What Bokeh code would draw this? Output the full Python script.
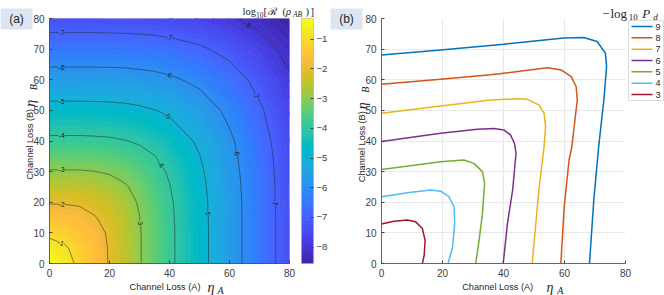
import math
import numpy as np
from bokeh.plotting import figure
from bokeh.plotting.contour import contour_data
from bokeh.layouts import row
from bokeh.models import (Range1d, FixedTicker, ColorBar, LinearColorMapper, Label, BoxAnnotation,
                          ColumnDataSource, GridBox)
from bokeh.core.properties import value
from bokeh.embed import file_html
from bokeh.resources import INLINE

# ---------------- panel (a): log10[R(rho_AB)] on a grid ----------------
eta_grid = [0, 5, 10, 15, 20, 25, 30, 35, 40, 50, 60, 70, 80]
# rows: eta_B = eta_grid[j]; columns: eta_A = eta_grid[i]
log10_R = [
    [-0.27, -0.71, -1.16, -1.61, -2.05, -2.50, -2.95, -3.39, -3.84, -4.73, -5.63, -6.52, -7.41],
    [-0.71, -0.90, -1.27, -1.62, -2.06, -2.50, -2.95, -3.39, -3.84, -4.73, -5.63, -6.52, -7.41],
    [-1.16, -1.27, -1.53, -1.73, -2.10, -2.51, -2.95, -3.40, -3.84, -4.73, -5.63, -6.52, -7.41],
    [-1.61, -1.62, -1.73, -1.96, -2.22, -2.57, -2.99, -3.42, -3.86, -4.74, -5.63, -6.52, -7.41],
    [-2.05, -2.06, -2.10, -2.22, -2.44, -2.70, -3.07, -3.47, -3.89, -4.76, -5.64, -6.53, -7.42],
    [-2.50, -2.50, -2.51, -2.57, -2.70, -2.92, -3.22, -3.58, -3.97, -4.80, -5.66, -6.54, -7.43],
    [-2.95, -2.95, -2.95, -2.99, -3.07, -3.22, -3.45, -3.75, -4.09, -4.87, -5.71, -6.57, -7.45],
    [-3.39, -3.39, -3.40, -3.42, -3.47, -3.58, -3.75, -3.98, -4.28, -4.98, -5.77, -6.61, -7.48],
    [-3.84, -3.84, -3.84, -3.86, -3.89, -3.97, -4.09, -4.28, -4.52, -5.13, -5.87, -6.68, -7.52],
    [-4.73, -4.73, -4.73, -4.74, -4.76, -4.80, -4.87, -4.98, -5.13, -5.58, -6.18, -6.89, -7.67],
    [-5.63, -5.63, -5.63, -5.63, -5.64, -5.66, -5.71, -5.77, -5.87, -6.18, -6.64, -7.23, -7.92],
    [-6.52, -6.52, -6.52, -6.52, -6.53, -6.54, -6.57, -6.61, -6.68, -6.89, -7.23, -7.68, -8.22],
    [-7.41, -7.41, -7.41, -7.41, -7.42, -7.43, -7.45, -7.48, -7.52, -7.67, -7.92, -8.22, -8.58],
]
contour_levels = [-8, -7, -6, -5, -4, -3, -2, -1]
cbar_low = -8.55
cbar_high = -0.30
cbar_ticks = [-8, -7, -6, -5, -4, -3, -2, -1]
ticks_x = [0, 20, 40, 60, 80]
ticks_y = [0, 10, 20, 30, 40, 50, 60, 70, 80]

# ---------------- panel (b): -log10 Pd contour curves ----------------
pd_labels = ["9", "8", "7", "6", "5", "4", "3"]
pd9_x = [0, 19.4, 40.1, 59.8, 66.3, 70.7, 73.4, 73.8, 72.9, 71.2, 69.6, 68.2]
pd9_y = [68.1, 69.7, 71.6, 73.6, 73.8, 72.5, 68.7, 64.3, 53.4, 38.1, 20.7, 0]
pd8_x = [0, 19.4, 35.8, 51.1, 54.4, 58.9, 62.2, 63.8, 64.2, 63.3, 62.4, 61.5, 59.9, 58.8]
pd8_y = [58.5, 60.2, 61.6, 63.5, 63.9, 63.2, 61.0, 57.8, 53.4, 45.8, 38.1, 33.8, 18.5, 0]
pd7_x = [0, 19.4, 35.8, 44.5, 47.8, 51.6, 53.3, 53.8, 53.3, 51.6, 49.4]
pd7_y = [49.1, 51.4, 53.4, 53.8, 53.6, 51.8, 49.1, 44.7, 38.1, 24.0, 0]
pd6_x = [0, 19.4, 31.4, 36.9, 40.1, 42.3, 43.6, 44.1, 43.0, 41.3, 39.9]
pd6_y = [39.8, 42.5, 43.8, 44.1, 43.6, 42.0, 39.2, 36.0, 24.0, 13.1, 0]
pd5_x = [0, 10.7, 19.4, 27.0, 30.3, 33.1, 33.8, 33.1, 32.0, 30.9]
pd5_y = [30.7, 32.1, 33.2, 33.8, 32.7, 30.0, 26.2, 16.4, 7.6, 0]
pd4_x = [0, 8.5, 16.1, 19.4, 22.1, 23.8, 24.0, 23.3, 21.8]
pd4_y = [21.8, 23.1, 24.0, 23.6, 21.8, 18.5, 13.1, 5.4, 0]
pd3_x = [0, 4.1, 8.5, 11.2, 13.4, 14.3, 14.0, 13.4]
pd3_y = [12.9, 13.8, 14.2, 13.6, 11.4, 7.6, 2.7, 0]
pd_x = [pd9_x, pd8_x, pd7_x, pd6_x, pd5_x, pd4_x, pd3_x]
pd_y = [pd9_y, pd8_y, pd7_y, pd6_y, pd5_y, pd4_y, pd3_y]

# ---------------- styles ----------------
pd_colors = ["#0072BD", "#D95319", "#EDB120", "#7E2F8E", "#77AC30", "#4DBEEE", "#A2142F"]
parula_rgb = [
    (0.2422, 0.1504, 0.6603), (0.2504, 0.1650, 0.7076), (0.2578, 0.1818, 0.7511), (0.2647, 0.1978, 0.7952),
    (0.2706, 0.2147, 0.8364), (0.2751, 0.2342, 0.8710), (0.2783, 0.2559, 0.8991), (0.2803, 0.2782, 0.9221),
    (0.2813, 0.3006, 0.9414), (0.2810, 0.3228, 0.9579), (0.2795, 0.3447, 0.9717), (0.2760, 0.3667, 0.9829),
    (0.2699, 0.3892, 0.9906), (0.2602, 0.4123, 0.9952), (0.2440, 0.4358, 0.9988), (0.2206, 0.4603, 0.9973),
    (0.1963, 0.4847, 0.9892), (0.1834, 0.5074, 0.9798), (0.1786, 0.5289, 0.9682), (0.1764, 0.5499, 0.9520),
    (0.1687, 0.5703, 0.9359), (0.1540, 0.5902, 0.9218), (0.1460, 0.6091, 0.9079), (0.1380, 0.6276, 0.8973),
    (0.1248, 0.6459, 0.8883), (0.1113, 0.6635, 0.8763), (0.0952, 0.6798, 0.8598), (0.0689, 0.6948, 0.8394),
    (0.0297, 0.7082, 0.8163), (0.0036, 0.7203, 0.7917), (0.0067, 0.7312, 0.7660), (0.0433, 0.7411, 0.7394),
    (0.0964, 0.7500, 0.7120), (0.1408, 0.7584, 0.6842), (0.1717, 0.7670, 0.6554), (0.1938, 0.7758, 0.6251),
    (0.2161, 0.7843, 0.5923), (0.2470, 0.7918, 0.5567), (0.2906, 0.7973, 0.5188), (0.3406, 0.8008, 0.4789),
    (0.3909, 0.8029, 0.4354), (0.4456, 0.8024, 0.3909), (0.5044, 0.7993, 0.3480), (0.5616, 0.7942, 0.3045),
    (0.6174, 0.7876, 0.2612), (0.6720, 0.7793, 0.2227), (0.7242, 0.7698, 0.1910), (0.7738, 0.7598, 0.1646),
    (0.8203, 0.7498, 0.1535), (0.8634, 0.7406, 0.1596), (0.9035, 0.7330, 0.1774), (0.9393, 0.7288, 0.2100),
    (0.9728, 0.7298, 0.2394), (0.9956, 0.7434, 0.2371), (0.9970, 0.7659, 0.2199), (0.9952, 0.7893, 0.2028),
    (0.9892, 0.8136, 0.1885), (0.9786, 0.8386, 0.1766), (0.9676, 0.8639, 0.1643), (0.9610, 0.8890, 0.1537),
    (0.9597, 0.9135, 0.1423), (0.9628, 0.9373, 0.1265), (0.9691, 0.9606, 0.1064), (0.9769, 0.9839, 0.0805),
]
parula = ["#%02x%02x%02x" % tuple(int(round(c * 255)) for c in rgb) for rgb in parula_rgb]

SANS = "Liberation Sans"
SERIF = "Liberation Serif"
TXT = "#262626"
TICK_TXT = "#404040"
W, H = 664, 295


def style_axes(p, xt, yt):
    p.xaxis.ticker = FixedTicker(ticks=xt)
    p.yaxis.ticker = FixedTicker(ticks=yt)
    for ax in (p.xaxis[0], p.yaxis[0]):
        ax.major_label_text_font = SANS
        ax.major_label_text_font_size = "10px"
        ax.major_label_text_color = TICK_TXT
        ax.axis_line_color = "#404040"
        ax.axis_line_width = 0.8
        ax.major_tick_line_color = "#404040"
        ax.major_tick_in = 3
        ax.major_tick_out = 0
        ax.minor_tick_line_color = None
        ax.major_label_standoff = 5


# ======================= panel (a) =======================
Z = np.array(log10_R, dtype=float)
pa = figure(width=330, height=H, output_backend="svg", toolbar_location=None,
            x_range=Range1d(0, 80), y_range=Range1d(0, 80),
            min_border_left=49, min_border_right=38, min_border_top=17, min_border_bottom=32)
pa.outline_line_color = None
pa.grid.visible = False
style_axes(pa, ticks_x, ticks_y)

fill_levels = list(np.linspace(cbar_low, cbar_high, len(parula) + 1))
fill_levels[0] = min(fill_levels[0], float(Z.min()) - 0.01)
fill_levels[-1] = max(fill_levels[-1], float(Z.max()) + 0.01)
fd = contour_data(eta_grid, eta_grid, Z, fill_levels, want_fill=True, want_line=False).fill_data
lev_arr = np.array(fill_levels)
band_colors = [parula[int(np.argmin(np.abs(lev_arr - lo)))] for lo in fd.lower_levels]
fsrc = ColumnDataSource(dict(xs=fd.xs, ys=fd.ys, c=band_colors))
pa.multi_polygons(xs="xs", ys="ys", fill_color="c", line_color="c", line_width=0.9, source=fsrc)

pa.contour(eta_grid, eta_grid, Z, levels=contour_levels, line_color="#262626", line_width=0.6, line_alpha=0.85)

# contour labels placed along the library's contour lines
cd = contour_data(eta_grid, eta_grid, Z, contour_levels, want_fill=False, want_line=True)
lx, ly, lt, la, lbg = [], [], [], [], []
for lev, xs, ys in zip(cd.line_data.levels, cd.line_data.xs, cd.line_data.ys):
    xs = np.asarray(xs, float)
    ys = np.asarray(ys, float)
    idx = np.where(np.isnan(xs))[0]
    bounds = [-1] + list(idx) + [len(xs)]
    for a, b in zip(bounds[:-1], bounds[1:]):
        sx = xs[a + 1:b]
        sy = ys[a + 1:b]
        if len(sx) < 2:
            continue
        if sx[0] > sx[-1]:
            sx = sx[::-1]
            sy = sy[::-1]
        d = np.hypot(np.diff(sx), np.diff(sy))
        s = np.concatenate([[0.0], np.cumsum(d)])
        total = s[-1]
        pos = 4.0
        while pos < total - 4.0:
            i = int(np.searchsorted(s, pos))
            i = min(max(i, 1), len(s) - 1)
            t = (pos - s[i - 1]) / max(s[i] - s[i - 1], 1e-9)
            px = sx[i - 1] + t * (sx[i] - sx[i - 1])
            py = sy[i - 1] + t * (sy[i] - sy[i - 1])
            ang = math.atan2(sy[i] - sy[i - 1], sx[i] - sx[i - 1])
            if ang >= math.pi / 2:
                ang -= math.pi
            if ang < -math.pi / 2:
                ang += math.pi
            k = int((lev - cbar_low) / (cbar_high - cbar_low) * len(parula))
            k = min(max(k, 0), len(parula) - 1)
            lx.append(px); ly.append(py); lt.append("%d" % lev); la.append(ang); lbg.append(parula[k])
            pos += 36.0

lsrc = ColumnDataSource(dict(x=lx, y=ly, text=lt, angle=la, bg=lbg))
pa.text(x="x", y="y", text="text", angle="angle", source=lsrc,
        text_font=value(SANS), text_font_size=value("7px"), text_color="#1a1a1a",
        text_align="center", text_baseline="middle", background_fill_color="bg")

mapper = LinearColorMapper(palette=parula, low=cbar_low, high=cbar_high)
cb = ColorBar(color_mapper=mapper, ticker=FixedTicker(ticks=cbar_ticks), width=12, padding=0, margin=0,
              location=(12, 0), label_standoff=3, major_label_text_font=SANS,
              major_label_text_font_size="9.5px", major_label_text_color=TICK_TXT,
              major_tick_in=3, major_tick_out=0, major_tick_line_color="#404040",
              minor_tick_line_color=None, bar_line_color="#a0a0a0", bar_line_width=0.5,
              border_line_color=None, background_fill_color=None)
pa.add_layout(cb, "right")

# ======================= panel (b) =======================
pb = figure(width=334, height=H, output_backend="svg", toolbar_location=None,
            x_range=Range1d(0, 80), y_range=Range1d(0, 80),
            min_border_left=51, min_border_right=39, min_border_top=18, min_border_bottom=32)
pb.outline_line_color = None
style_axes(pb, ticks_x, ticks_y)
pb.xgrid.ticker = FixedTicker(ticks=ticks_x)
pb.ygrid.ticker = FixedTicker(ticks=ticks_y)
pb.grid.grid_line_color = "#e3e3e3"
pb.grid.grid_line_width = 0.8

for xs, ys, col in zip(pd_x, pd_y, pd_colors):
    pb.line(xs, ys, line_color=col, line_width=1.5)

# ======================= text overlay (page pixel space) =======================
ov = figure(width=W, height=H, output_backend="svg", toolbar_location=None, title=None,
            x_range=Range1d(0, W), y_range=Range1d(H, 0),
            x_axis_location=None, y_axis_location=None,
            min_border_left=0, min_border_right=0, min_border_top=0, min_border_bottom=0)
ov.outline_line_color = None
ov.grid.visible = False
ov.background_fill_color = None
ov.border_fill_color = None


def put(x, y, text, size, font=SANS, style="normal", angle=0.0, **kw):
    opts = dict(x=x, y=y, text=text, text_font=font, text_font_size=f"{size}px",
                text_font_style=style, angle=angle, text_color=TXT,
                text_align="left", text_baseline="alphabetic")
    opts.update(kw)
    ov.add_layout(Label(**opts))


# panel tags
for (x0, x1, tag) in [(0, 32, "(a)"), (330, 362, "(b)")]:
    ov.add_layout(BoxAnnotation(left=x0, right=x1, top=8, bottom=29, fill_color="#dce6f2",
                                fill_alpha=1.0, line_color=None, level="underlay"))
    put((x0 + x1) / 2, 18.5, tag, 12, text_align="center", text_baseline="middle")

# axis titles
for (x_main, x_eta, x_sub) in [(129, 207, 217), (461.7, 546, 556.7)]:
    put(x_main, 286.5, "Channel Loss (A)", 9.2)
    put(x_eta, 286.5, "η", 14, font=SERIF, style="italic")
    put(x_sub, 289.8, "A", 10, font=SERIF, style="italic")
for (xb, y_main, xb2) in [(29.5, 179.3, 33.3), (361.7, 181.7, 364.8)]:
    put(xb, y_main, "Channel Loss (B)", 9.2, angle=math.pi / 2)
    put(xb, y_main - 73, "η", 14, font=SERIF, style="italic", angle=math.pi / 2)
    put(xb2, y_main - 89.5, "B", 10, font=SERIF, style="italic", angle=math.pi / 2)

# colorbar title  log10[R(rho_AB)]
put(242, 10.5, "log", 10.5, font=SERIF)
put(255.5, 14, "10", 7.5, font=SERIF)
put(263, 10.5, "[", 10.5, font=SERIF)
put(267.5, 10.5, "ℛ", 10.5, font=SERIF)
put(282, 10.5, "(", 10.5, font=SERIF)
put(285.5, 10.5, "ρ", 10.5, font=SERIF, style="italic")
put(292.5, 14, "AB", 7.5, font=SERIF, style="italic")
put(305, 10.5, ")", 10.5, font=SERIF)
put(310, 10.5, "]", 10.5, font=SERIF)

# legend for panel (b): frame (under the samples), line samples and labels
leg_left, leg_right, leg_top, leg_bottom = 628, 663, 20, 100
ov.add_layout(BoxAnnotation(left=leg_left, right=leg_right, top=leg_top, bottom=leg_bottom,
                            fill_color="white", fill_alpha=1.0, line_color="#8c8c8c", line_width=1,
                            level="underlay"))
row_h = (leg_bottom - leg_top - 12) / (len(pd_labels) - 1)
row_y = [leg_top + 6 + row_h * i for i in range(len(pd_labels))]
ov.segment(x0=[leg_left + 3] * len(row_y), y0=row_y, x1=[leg_left + 24] * len(row_y), y1=row_y,
           line_color=pd_colors, line_width=1.5)
for yy, lab in zip(row_y, pd_labels):
    put(leg_left + 27, yy, lab, 9, text_baseline="middle")

# legend title  -log10 Pd
put(601.7, 13, "−", 13, font=SERIF)
put(610, 13, "log", 13, font=SERIF)
put(628.3, 16.5, "10", 9, font=SERIF)
put(641.7, 13, "P", 13, font=SERIF, style="italic")
put(652.7, 16.5, "d", 9, font=SERIF, style="italic")

panels = row(pa, pb)
root = GridBox(children=[(panels, 0, 0), (ov, 0, 0)])
open("out.html", "w").write(file_html(root, INLINE))
